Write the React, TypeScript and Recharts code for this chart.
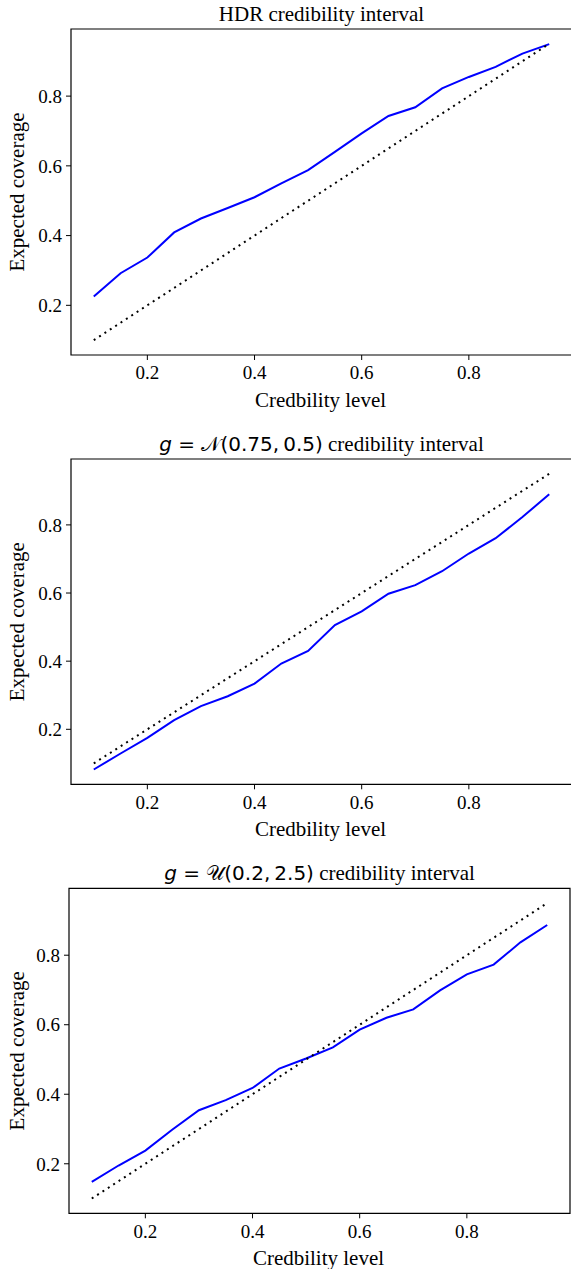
import { Line, LineChart, ReferenceArea, XAxis, YAxis } from "recharts"

const levels = [0.1, 0.15, 0.2, 0.25, 0.3, 0.35, 0.4, 0.45, 0.5, 0.55, 0.6, 0.65, 0.7, 0.75, 0.8, 0.85, 0.9, 0.95]
const hdrCoverage = [0.225, 0.292, 0.337, 0.409, 0.449, 0.479, 0.51, 0.55, 0.588, 0.64, 0.693, 0.743, 0.768, 0.822, 0.855, 0.884, 0.922, 0.949]
const normalCoverage = [0.082, 0.129, 0.175, 0.227, 0.268, 0.297, 0.334, 0.393, 0.43, 0.506, 0.546, 0.598, 0.623, 0.664, 0.716, 0.761, 0.823, 0.89]
const uniformCoverage = [0.148, 0.195, 0.238, 0.298, 0.354, 0.383, 0.418, 0.474, 0.503, 0.535, 0.586, 0.62, 0.644, 0.699, 0.745, 0.773, 0.837, 0.887]
const tickValues = [0.2, 0.4, 0.6, 0.8]

const serif = "'Liberation Serif', 'Times New Roman', serif"
const mathFont = "'DejaVu Sans', sans-serif"
const xDomain: [number, number] = [0.0575, 0.9925]

function rowsFor(cov: number[]) {
  return levels.map((level, i) => ({ level, cov: cov[i], ideal: level }))
}

function Panel({ title, cov, yDomain, top, height, marginTop, marginBottom, yWidth, width }: any) {
  const data = rowsFor(cov)
  return (
    <div style={{ position: "absolute", left: 0, top }}>
      <LineChart width={width} height={height} data={data} margin={{ top: marginTop, right: 1, bottom: marginBottom, left: 0 }}>
        <ReferenceArea
          x1={xDomain[0]}
          x2={xDomain[1]}
          y1={yDomain[0]}
          y2={yDomain[1]}
          fill="none"
          stroke="#000"
          strokeWidth={1.2}
          fillOpacity={0}
          label={{
            content: (p: any) => {
              const vb = p.viewBox || {}
              return (
                <text x={vb.x + vb.width / 2} y={vb.y - 8} textAnchor="middle" fontFamily={serif} fontSize={21} fill="#000">
                  {title}
                </text>
              )
            },
          }}
        />
        <XAxis
          dataKey="level"
          type="number"
          domain={xDomain}
          allowDataOverflow
          ticks={tickValues}
          tickFormatter={(v) => v.toFixed(1)}
          axisLine={false}
          tickLine={{ stroke: "#000" }}
          tickSize={5}
          tickMargin={6}
          height={40}
          tick={{ fill: "#000", fontFamily: serif, fontSize: 19 }}
          label={{
            content: (p: any) => {
              const vb = p.viewBox || {}
              return (
                <text x={vb.x + vb.width / 2 - 1} y={vb.y + 52} textAnchor="middle" fontFamily={serif} fontSize={21} fill="#000">
                  Credbility level
                </text>
              )
            },
          }}
        />
        <YAxis
          type="number"
          domain={yDomain}
          allowDataOverflow
          ticks={tickValues}
          tickFormatter={(v) => v.toFixed(1)}
          axisLine={false}
          tickLine={{ stroke: "#000" }}
          tickSize={5}
          tickMargin={4}
          width={yWidth}
          tick={{ fill: "#000", fontFamily: serif, fontSize: 19 }}
          label={{
            content: (p: any) => {
              const vb = p.viewBox || {}
              const cx = 24
              const cy = vb.y + vb.height / 2
              return (
                <text x={cx} y={cy} textAnchor="middle" transform={`rotate(-90, ${cx}, ${cy})`} fontFamily={serif} fontSize={21} fill="#000">
                  Expected coverage
                </text>
              )
            },
          }}
        />
        <Line dataKey="cov" stroke="#0000ff" strokeWidth={2} dot={false} isAnimationActive={false} />
        <Line dataKey="ideal" stroke="#000" strokeWidth={2} strokeDasharray="2 4.4" dot={false} isAnimationActive={false} />
      </LineChart>
    </div>
  )
}

export default function App() {
  const normalTitle = (
    <>
      <tspan fontFamily={mathFont} fontSize={20} fontStyle="italic">g</tspan>
      <tspan fontFamily={mathFont} fontSize={20}> = 𝒩(0.75,{"\u2009"}0.5)</tspan>
      <tspan> credibility interval</tspan>
    </>
  )
  const uniformTitle = (
    <>
      <tspan fontFamily={mathFont} fontSize={20} fontStyle="italic">g</tspan>
      <tspan fontFamily={mathFont} fontSize={20}> = 𝒰(0.2,{"\u2009"}2.5)</tspan>
      <tspan> credibility interval</tspan>
    </>
  )
  return (
    <div style={{ position: "absolute", left: 0, top: 0, width: 571, height: 1269, overflow: "hidden", background: "#fff" }}>
      <Panel title="HDR credibility interval" cov={hdrCoverage} yDomain={[0.0575, 0.9925]} top={0} height={430} marginTop={29} marginBottom={35} yWidth={71} width={573} />
      <Panel title={normalTitle} cov={normalCoverage} yDomain={[0.0386, 0.9934]} top={430} height={430} marginTop={29} marginBottom={35.7} yWidth={71} width={573} />
      <Panel title={uniformTitle} cov={uniformCoverage} yDomain={[0.0575, 0.9925]} top={860} height={409} marginTop={28.3} marginBottom={15.7} yWidth={69} width={571} />
    </div>
  )
}
